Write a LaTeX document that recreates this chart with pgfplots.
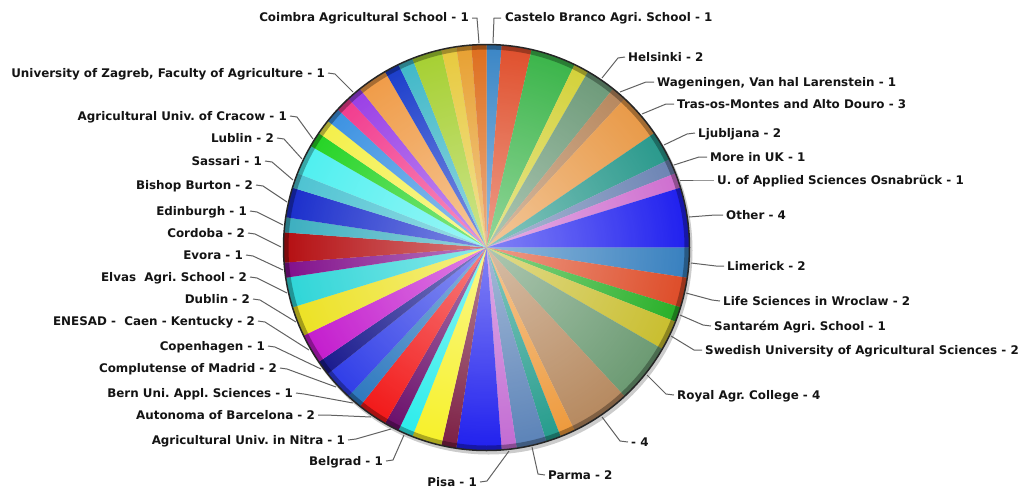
\documentclass[border=0pt]{standalone}
\usepackage{pgfplots}
\pgfplotsset{compat=1.18}
\usepackage{pgfplotstable}
\usetikzlibrary{fadings}
\usepackage{fontspec}
\newfontfamily\labfont{DejaVu Sans}
\frenchspacing
\tikzfading[name=centerglow, inner color=transparent!0, outer color=transparent!100]
\tikzset{
  lab/.style={font=\labfont\bfseries\fontsize{11.9}{13}\selectfont, text=black!92,
    inner sep=0pt, text height=9pt, text depth=0pt},
  ldr/.style={draw=black!62, line width=1pt}}

% slices clockwise from 12 o'clock: value, colour (RGB)
\pgfplotstableread{
v r g b
1 59 134 198
2 224 80 45
3 59 181 74
1 212 210 58
2 110 155 122
1 184 136 94
3 233 154 72
2 41 153 140
1 108 132 180
1 207 111 208
4 31 31 239
2 55 128 191
2 222 76 40
1 40 176 40
2 201 190 46
4 107 154 114
4 182 137 95
1 238 154 60
1 36 156 140
2 91 131 184
1 195 107 211
3 32 32 238
1 124 31 68
2 247 241 42
1 44 237 235
1 107 15 107
2 242 24 24
1 44 120 191
2 47 61 232
1 25 26 142
2 196 28 206
2 237 226 36
2 46 214 216
1 130 16 140
2 181 15 18
1 60 175 192
2 26 46 204
1 77 195 210
2 79 240 240
1 37 212 37
1 244 240 74
1 60 146 226
1 242 60 142
1 154 63 230
2 240 156 72
1 27 61 203
1 64 184 200
2 166 208 50
1 232 202 62
1 232 161 50
1 222 110 30
}\piedata

\begin{document}
\begin{tikzpicture}
\begin{axis}[x=1pt, y=1pt, y dir=reverse, xmin=0, xmax=1021, ymin=0, ymax=488,
  hide axis, clip=false, scale only axis]
\path (axis cs:0,0) rectangle (axis cs:1021,488);
\pgfplotstablegetrowsof{\piedata}
\pgfmathtruncatemacro{\nlast}{\pgfplotsretval-1}
\gdef\pietotal{0}
\pgfplotsforeachungrouped \i in {0,...,\nlast}{%
  \pgfplotstablegetelem{\i}{v}\of\piedata
  \pgfmathsetmacro\tmpsum{\pietotal+\pgfplotsretval}%
  \global\let\pietotal\tmpsum
}
\def\cx{486.5}\def\cy{247.5}\def\R{203}
\fill[black, opacity=0.2] (axis cs:488.5,250.5) circle[radius=204pt];
\gdef\curang{90}
\pgfplotsforeachungrouped \i in {0,...,\nlast}{%
  \pgfplotstablegetelem{\i}{v}\of\piedata \let\pv\pgfplotsretval
  \pgfplotstablegetelem{\i}{r}\of\piedata \let\pr\pgfplotsretval
  \pgfplotstablegetelem{\i}{g}\of\piedata \let\pg\pgfplotsretval
  \pgfplotstablegetelem{\i}{b}\of\piedata \let\pb\pgfplotsretval
  \pgfmathsetmacro\endang{\curang-\pv*360/\pietotal}%
  \pgfmathsetmacro\sx{\cx+\R*cos(\curang)}%
  \pgfmathsetmacro\sy{\cy-\R*sin(\curang)}%
  \edef\temp{\noexpand\fill[fill={rgb,255:red,\pr;green,\pg;blue,\pb}] (axis cs:\cx,\cy) -- (axis cs:\sx,\sy) arc[start angle=\curang, end angle=\endang, radius=\R pt] -- cycle;}%
  \temp
  \global\let\curang\endang
}
\fill[white, opacity=0.45, path fading=centerglow] (axis cs:\cx,\cy) circle[radius=203pt];
\draw[black, opacity=0.3, line width=5pt] (axis cs:\cx,\cy) circle[radius=200.5pt];
\draw[black!85, line width=1.5pt] (axis cs:\cx,\cy) circle[radius=203pt];

% leaders
\draw[ldr] (472,18) -- (477,18) -- (479,43);
\draw[ldr] (501,18) -- (494,18) -- (493,43);
\draw[ldr] (625,57) -- (618,58) -- (602,78);
\draw[ldr] (654,82) -- (646,82) -- (620,92);
\draw[ldr] (674,104) -- (666,104) -- (642,114);
\draw[ldr] (695,133) -- (687,134) -- (664,145);
\draw[ldr] (707,157) -- (699,157) -- (674,165);
\draw[ldr] (714,180) -- (706,180) -- (680,180);
\draw[ldr] (723,215) -- (715,215) -- (689,217);
\draw[ldr] (724,266) -- (716,266) -- (691,263);
\draw[ldr] (720,301) -- (712,300) -- (686,293);
\draw[ldr] (711,326) -- (703,325) -- (680,315);
\draw[ldr] (702,350) -- (694,350) -- (671,336);
\draw[ldr] (674,395) -- (666,394) -- (647,375);
\draw[ldr] (628,442) -- (620,441) -- (602,417);
\draw[ldr] (545,475) -- (538,474) -- (532,447);
\draw[ldr] (480,482) -- (487,481) -- (509,451);
\draw[ldr] (328,73) -- (335,74) -- (353,92);
\draw[ldr] (290,116) -- (297,117) -- (313,139);
\draw[ldr] (277,138) -- (284,139) -- (302,159);
\draw[ldr] (265,161) -- (272,162) -- (293,180);
\draw[ldr] (256,185) -- (263,186) -- (287,202);
\draw[ldr] (250,211) -- (257,212) -- (283,225);
\draw[ldr] (248,233) -- (255,234) -- (281,247);
\draw[ldr] (246,255) -- (253,256) -- (283,270);
\draw[ldr] (250,277) -- (257,278) -- (287,293);
\draw[ldr] (253,299) -- (260,300) -- (296,322);
\draw[ldr] (258,321) -- (265,322) -- (309,350);
\draw[ldr] (268,346) -- (275,347) -- (321,369);
\draw[ldr] (280,368) -- (287,369) -- (336,387);
\draw[ldr] (296,393) -- (304,394) -- (353,403);
\draw[ldr] (318,415) -- (326,415) -- (371,417);
\draw[ldr] (348,440) -- (356,439) -- (391,429);
\draw[ldr] (386,461) -- (393,460) -- (404,435);

% labels right
\node[lab, anchor=west] at (505,17) {Castelo Branco Agri. School - 1};
\node[lab, anchor=east] at (469,17) {Coimbra Agricultural School - 1};
\node[lab, anchor=west] at (628,57) {Helsinki - 2};
\node[lab, anchor=west] at (657,82) {Wageningen, Van hal Larenstein - 1};
\node[lab, anchor=west] at (677,104) {Tras-os-Montes and Alto Douro - 3};
\node[lab, anchor=west] at (698,133) {Ljubljana - 2};
\node[lab, anchor=west] at (710,157) {More in UK - 1};
\node[lab, anchor=west] at (717,180) {U. of Applied Sciences Osnabrück - 1};
\node[lab, anchor=west] at (726,215) {Other - 4};
\node[lab, anchor=west] at (727,266) {Limerick - 2};
\node[lab, anchor=west] at (723,301) {Life Sciences in Wroclaw - 2};
\node[lab, anchor=west] at (714,326) {Santarém Agri. School - 1};
\node[lab, anchor=west] at (705,350) {Swedish University of Agricultural Sciences - 2};
\node[lab, anchor=west] at (677,395) {Royal Agr. College - 4};
\node[lab, anchor=west] at (631,442) {- 4};
\node[lab, anchor=west] at (548,475) {Parma - 2};
\node[lab, anchor=east] at (477,482) {Pisa - 1};
% labels left
\node[lab, anchor=east] at (325,73) {University of Zagreb, Faculty of Agriculture - 1};
\node[lab, anchor=east] at (287,116) {Agricultural Univ. of Cracow - 1};
\node[lab, anchor=east] at (274,138) {Lublin - 2};
\node[lab, anchor=east] at (262,161) {Sassari - 1};
\node[lab, anchor=east] at (253,185) {Bishop Burton - 2};
\node[lab, anchor=east] at (247,211) {Edinburgh - 1};
\node[lab, anchor=east] at (245,233) {Cordoba - 2};
\node[lab, anchor=east] at (243,255) {Evora - 1};
\node[lab, anchor=east] at (247,277) {Elvas\ \ Agri. School - 2};
\node[lab, anchor=east] at (250,299) {Dublin - 2};
\node[lab, anchor=east] at (255,321) {ENESAD -\ \ Caen - Kentucky - 2};
\node[lab, anchor=east] at (265,346) {Copenhagen - 1};
\node[lab, anchor=east] at (277,368) {Complutense of Madrid - 2};
\node[lab, anchor=east] at (293,393) {Bern Uni. Appl. Sciences - 1};
\node[lab, anchor=east] at (315,415) {Autonoma of Barcelona - 2};
\node[lab, anchor=east] at (345,440) {Agricultural Univ. in Nitra - 1};
\node[lab, anchor=east] at (383,461) {Belgrad - 1};
\end{axis}
\end{tikzpicture}
\end{document}
